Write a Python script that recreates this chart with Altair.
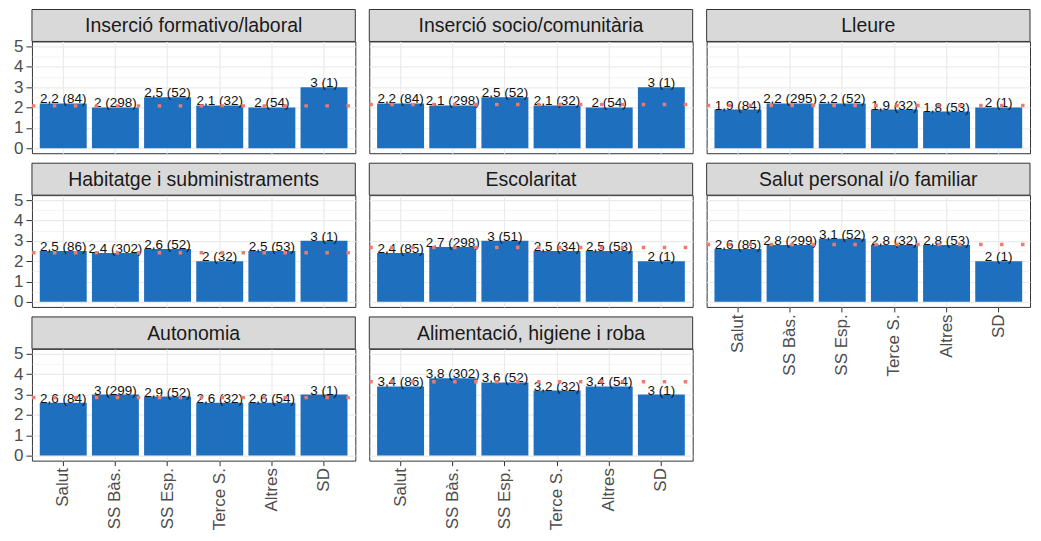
import altair as alt
import pandas as pd

# ---------------- data ----------------
categories = ["Salut", "SS Bàs.", "SS Esp.", "Terce S.", "Altres", "SD"]

titles = [
    "Inserció formativo/laboral",
    "Inserció socio/comunitària",
    "Lleure",
    "Habitatge i subministraments",
    "Escolaritat",
    "Salut personal i/o familiar",
    "Autonomia",
    "Alimentació, higiene i roba",
]

values_insercio_form = [2.2, 2.0, 2.5, 2.1, 2.0, 3.0]
counts_insercio_form = [84, 298, 52, 32, 54, 1]

values_insercio_soc = [2.2, 2.1, 2.5, 2.1, 2.0, 3.0]
counts_insercio_soc = [84, 298, 52, 32, 54, 1]

values_lleure = [1.9, 2.2, 2.2, 1.9, 1.8, 2.0]
counts_lleure = [84, 295, 52, 32, 53, 1]

values_habitatge = [2.5, 2.4, 2.6, 2.0, 2.5, 3.0]
counts_habitatge = [86, 302, 52, 32, 53, 1]

values_escolaritat = [2.4, 2.7, 3.0, 2.5, 2.5, 2.0]
counts_escolaritat = [85, 298, 51, 34, 53, 1]

values_salut = [2.6, 2.8, 3.1, 2.8, 2.8, 2.0]
counts_salut = [85, 299, 52, 32, 53, 1]

values_autonomia = [2.6, 3.0, 2.9, 2.6, 2.6, 3.0]
counts_autonomia = [84, 299, 52, 32, 54, 1]

values_alimentacio = [3.4, 3.8, 3.6, 3.2, 3.4, 3.0]
counts_alimentacio = [86, 302, 52, 32, 54, 1]

means = [2.08, 2.15, 2.1, 2.41, 2.67, 2.82, 2.85, 3.63]

y_ticks = [0, 0.5, 1, 1.5, 2, 2.5, 3, 3.5, 4, 4.5, 5]

all_values = [values_insercio_form, values_insercio_soc, values_lleure, values_habitatge,
              values_escolaritat, values_salut, values_autonomia, values_alimentacio]
all_counts = [counts_insercio_form, counts_insercio_soc, counts_lleure, counts_habitatge,
              counts_escolaritat, counts_salut, counts_autonomia, counts_alimentacio]

# ---------------- style ----------------
BLUE = "#1F6FBF"
RED = "#EE7A72"
GRID = "#EBEBEB"
DARK = "#333333"
AXIS_TXT = "#4D4D4D"
FONT = "Liberation Sans"

SH = 32      # strip height
PH = 112     # plot height
GAP = 10     # gap between panel bottom and next strip
W = 324      # panel width

COND_MAJOR = "datum.value % 1 === 0"


def fmt_label(v, n):
    s = ("%g" % v).replace(".", ",")
    return f"{s} ({n})"


def panel(i, show_y, show_x):
    width = W
    df = pd.DataFrame({
        "cat": categories,
        "value": all_values[i],
        "n": all_counts[i],
    })
    df["label"] = [fmt_label(v, n) for v, n in zip(df["value"], df["n"])]

    x_axis = alt.Axis(
        labels=show_x, ticks=show_x, domain=False, grid=True,
        gridColor=GRID, gridWidth=1.2,
        labelAngle=270, labelFontSize=17, labelColor=AXIS_TXT, labelFont=FONT,
        tickColor=DARK, tickSize=5, labelPadding=2,
    )
    y_axis = alt.Axis(
        values=y_ticks, labels=show_y, ticks=show_y, domain=False, grid=True,
        gridColor=GRID,
        gridWidth={"condition": {"test": COND_MAJOR, "value": 1.2}, "value": 0.6},
        tickOpacity={"condition": {"test": COND_MAJOR, "value": 1}, "value": 0},
        labelExpr="datum.value % 1 === 0 ? format(datum.value, 'd') : ''",
        labelFontSize=17, labelColor=AXIS_TXT, labelFont=FONT,
        tickColor=DARK, tickSize=6, labelPadding=3,
    )
    x_scale = alt.Scale(domain=categories, paddingInner=0.1, paddingOuter=0.15)
    y_scale = alt.Scale(domain=[-0.25, 5.25], nice=False, zero=False)

    x_enc = alt.X("cat:N", sort=categories, scale=x_scale, axis=x_axis, title=None)
    y_enc = alt.Y("value:Q", scale=y_scale, axis=y_axis, title=None)

    bars = alt.Chart(df).mark_bar(color=BLUE).encode(x=x_enc, y=y_enc)
    text = alt.Chart(df).mark_text(
        baseline="bottom", dy=3, fontSize=13.5, color="#111111", font=FONT
    ).encode(x=x_enc, y=y_enc, text="label:N")

    mean_df = pd.DataFrame({"mean": [means[i]]})
    rule = alt.Chart(mean_df).mark_rule(
        color=RED, strokeWidth=3.5, strokeDash=[3.5, 17.5], strokeCap="butt"
    ).encode(
        y=alt.Y("mean:Q", scale=y_scale, axis=y_axis, title=None),
        x=alt.value(0), x2=alt.value(width),
    )

    strip_df = pd.DataFrame({"t": [titles[i]]})
    strip_rect = alt.Chart(strip_df).mark_rect(
        fill="#D9D9D9", stroke=DARK, strokeWidth=1
    ).encode(x=alt.value(0), x2=alt.value(width), y=alt.value(-SH), y2=alt.value(0))
    strip_text = alt.Chart(strip_df).mark_text(
        fontSize=19.5, color="#1A1A1A", font=FONT, baseline="middle", align="center"
    ).encode(x=alt.value(width / 2), y=alt.value(-SH / 2 + 1), text="t:N")

    return alt.layer(bars, text, rule, strip_rect, strip_text).properties(
        width=width, height=PH,
        view=alt.ViewBackground(stroke=DARK, strokeWidth=1, fill="white"),
    )


panels = [
    panel(0, True, False),
    panel(1, False, False),
    panel(2, False, False),
    panel(3, True, False),
    panel(4, False, False),
    panel(5, False, True),
    panel(6, True, True),
    panel(7, False, True),
]

chart = alt.concat(
    *panels, columns=3, bounds="flush",
    spacing={"row": SH + GAP, "column": 14},
).properties(
    padding={"left": 5, "top": 0, "right": 0, "bottom": 0}
).configure(font=FONT).configure_view(stroke=DARK)

chart.save("out.html", embed_options={"renderer": "svg", "actions": False})
